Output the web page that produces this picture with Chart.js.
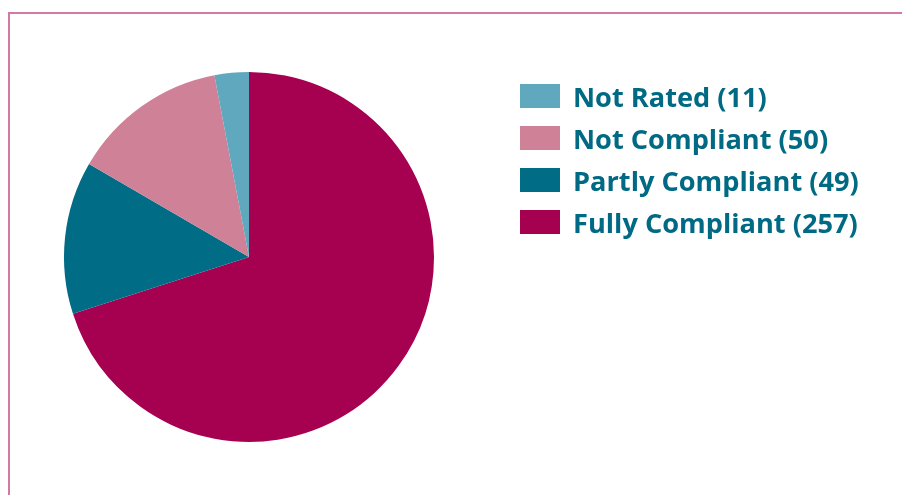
<!DOCTYPE html>
<html>
<head>
<meta charset="utf-8">
<script src="https://cdn.jsdelivr.net/npm/chart.js@4"></script>
<style>
  html, body { margin: 0; padding: 0; background: #fff; }
  #wrap { position: relative; width: 902px; height: 495px; overflow: hidden; }
  #frame {
    position: absolute; left: 8px; top: 12px; right: -10px; bottom: -10px;
    border-left: 2px solid #d479a6; border-top: 2px solid #d479a6;
  }
  #pie { position: absolute; left: 0; top: 0; }
  #legend {
    position: absolute; left: 520px; top: 84px; margin: 0; padding: 0; list-style: none;
    font-family: "Open Sans", Lato, sans-serif; font-weight: 700; font-size: 27.2px; color: #006a84;
  }
  #legend li { display: flex; align-items: flex-end; height: 24px; margin-bottom: 18px; }
  #legend .box { width: 40px; height: 24px; margin-right: 13px; flex: none; }
  #legend .txt { line-height: 24px; position: relative; top: 1px; white-space: nowrap; }
</style>
</head>
<body>
<div id="wrap">
  <div id="frame"></div>
  <canvas id="pie" width="902" height="495"></canvas>
  <ul id="legend"></ul>
</div>
<script>
// slice order is clockwise from 12 o'clock; legend lists them the other way round
const categories = ["Fully Compliant", "Partly Compliant", "Not Compliant", "Not Rated"];
const counts     = [257, 49, 50, 11];
const colors     = ["#a60050", "#006c86", "#cf8297", "#5fa8bd"];

document.addEventListener("DOMContentLoaded", () => {
  const legend = document.getElementById("legend");

  // Build legend (reversed)
  categories.map((name, i) => i).reverse().forEach(i => {
    const li = document.createElement("li");
    li.innerHTML = `<span class="box" style="background:${colors[i]}"></span>` +
                   `<span class="txt">${categories[i]} (${counts[i]})</span>`;
    legend.appendChild(li);
  });

  const ctx = document.getElementById("pie").getContext("2d");
  new Chart(ctx, {
    type: "pie",
    data: {
      labels: categories,
      datasets: [{
        data: counts,
        backgroundColor: colors,
        borderWidth: 0
      }]
    },
    options: {
      responsive: false,
      animation: false,
      layout: { padding: { left: 64, top: 72, right: 468, bottom: 53 } },
      plugins: {
        legend: { display: false },
        tooltip: { enabled: false }
      }
    }
  });
});
</script>
</body>
</html>
